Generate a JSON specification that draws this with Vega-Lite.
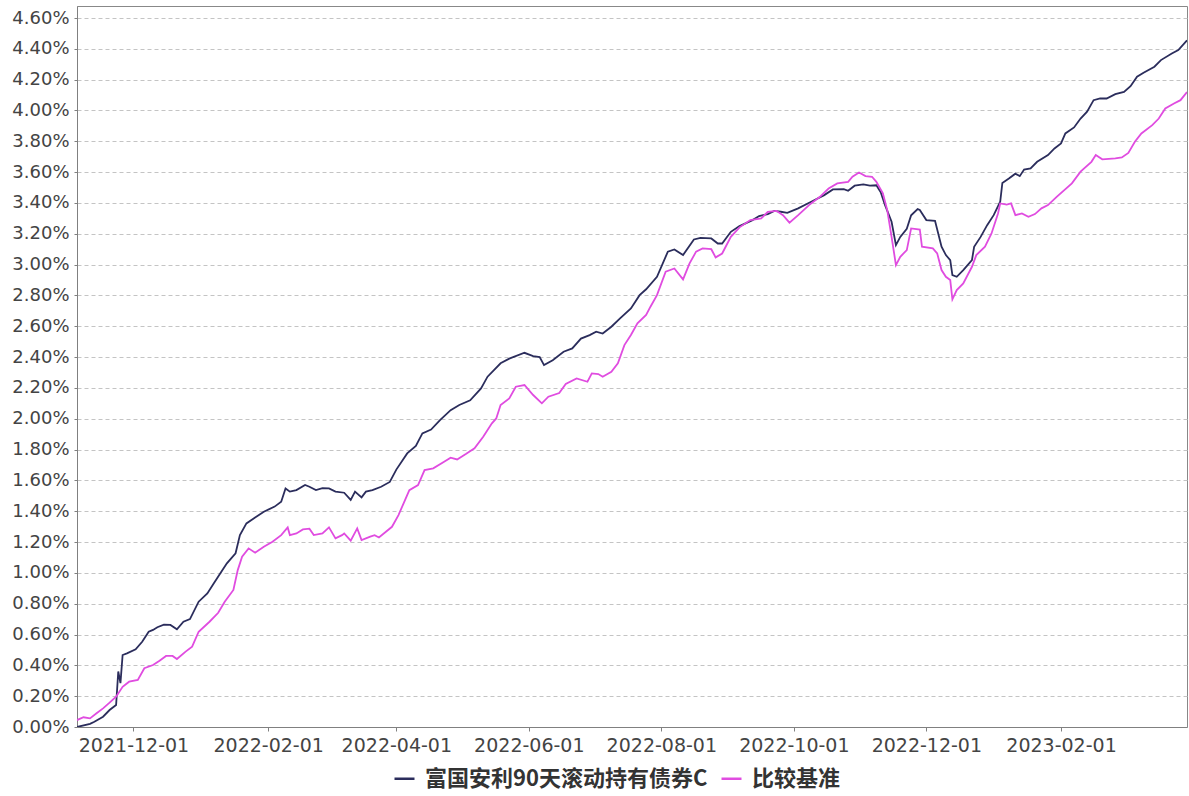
{
  "$schema": "https://vega.github.io/schema/vega-lite/v6.json",
  "width": 1110,
  "height": 721,
  "autosize": "none",
  "padding": {"left": 77, "top": 6, "right": 2, "bottom": 69},
  "background": "white",
  "config": {
    "view": {"stroke": "#888888", "strokeWidth": 1},
    "axis": {"labelFont": "DejaVu Sans", "labelFontSize": 18, "labelColor": "#444444", "domainColor": "#808080", "tickColor": "#808080", "tickSize": 4, "title": null}
  },
  "datasets": {
    "rows": [
      {"date": "2021-11-05", "series": "富国安利90天滚动持有债券C", "value": 0.0},
      {"date": "2021-11-11", "series": "富国安利90天滚动持有债券C", "value": 0.02},
      {"date": "2021-11-13", "series": "富国安利90天滚动持有债券C", "value": 0.034},
      {"date": "2021-11-17", "series": "富国安利90天滚动持有债券C", "value": 0.067},
      {"date": "2021-11-20", "series": "富国安利90天滚动持有债券C", "value": 0.11},
      {"date": "2021-11-23", "series": "富国安利90天滚动持有债券C", "value": 0.143},
      {"date": "2021-11-24", "series": "富国安利90天滚动持有债券C", "value": 0.36},
      {"date": "2021-11-25", "series": "富国安利90天滚动持有债券C", "value": 0.285},
      {"date": "2021-11-26", "series": "富国安利90天滚动持有债券C", "value": 0.467},
      {"date": "2021-11-28", "series": "富国安利90天滚动持有债券C", "value": 0.478},
      {"date": "2021-12-02", "series": "富国安利90天滚动持有债券C", "value": 0.504},
      {"date": "2021-12-05", "series": "富国安利90天滚动持有债券C", "value": 0.553},
      {"date": "2021-12-08", "series": "富国安利90天滚动持有债券C", "value": 0.618},
      {"date": "2021-12-10", "series": "富国安利90天滚动持有债券C", "value": 0.63},
      {"date": "2021-12-12", "series": "富国安利90天滚动持有债券C", "value": 0.647},
      {"date": "2021-12-15", "series": "富国安利90天滚动持有债券C", "value": 0.664},
      {"date": "2021-12-18", "series": "富国安利90天滚动持有债券C", "value": 0.662},
      {"date": "2021-12-21", "series": "富国安利90天滚动持有债券C", "value": 0.634},
      {"date": "2021-12-24", "series": "富国安利90天滚动持有债券C", "value": 0.683},
      {"date": "2021-12-27", "series": "富国安利90天滚动持有债券C", "value": 0.70},
      {"date": "2021-12-31", "series": "富国安利90天滚动持有债券C", "value": 0.813},
      {"date": "2022-01-04", "series": "富国安利90天滚动持有债券C", "value": 0.867},
      {"date": "2022-01-07", "series": "富国安利90天滚动持有债券C", "value": 0.932},
      {"date": "2022-01-10", "series": "富国安利90天滚动持有债券C", "value": 0.997},
      {"date": "2022-01-13", "series": "富国安利90天滚动持有债券C", "value": 1.062},
      {"date": "2022-01-17", "series": "富国安利90天滚动持有债券C", "value": 1.127},
      {"date": "2022-01-19", "series": "富国安利90天滚动持有债券C", "value": 1.245},
      {"date": "2022-01-22", "series": "富国安利90天滚动持有债券C", "value": 1.321},
      {"date": "2022-01-26", "series": "富国安利90天滚动持有债券C", "value": 1.36},
      {"date": "2022-01-30", "series": "富国安利90天滚动持有债券C", "value": 1.397},
      {"date": "2022-02-04", "series": "富国安利90天滚动持有债券C", "value": 1.43},
      {"date": "2022-02-07", "series": "富国安利90天滚动持有债券C", "value": 1.462},
      {"date": "2022-02-09", "series": "富国安利90天滚动持有债券C", "value": 1.548},
      {"date": "2022-02-11", "series": "富国安利90天滚动持有债券C", "value": 1.527},
      {"date": "2022-02-14", "series": "富国安利90天滚动持有债券C", "value": 1.537},
      {"date": "2022-02-18", "series": "富国安利90天滚动持有债券C", "value": 1.57},
      {"date": "2022-02-20", "series": "富国安利90天滚动持有债券C", "value": 1.559},
      {"date": "2022-02-23", "series": "富国安利90天滚动持有债券C", "value": 1.537},
      {"date": "2022-02-26", "series": "富国安利90天滚动持有债券C", "value": 1.55},
      {"date": "2022-03-01", "series": "富国安利90天滚动持有债券C", "value": 1.548},
      {"date": "2022-03-04", "series": "富国安利90天滚动持有债券C", "value": 1.527},
      {"date": "2022-03-08", "series": "富国安利90天滚动持有债券C", "value": 1.52},
      {"date": "2022-03-11", "series": "富国安利90天滚动持有债券C", "value": 1.473},
      {"date": "2022-03-13", "series": "富国安利90天滚动持有债券C", "value": 1.527},
      {"date": "2022-03-16", "series": "富国安利90天滚动持有债券C", "value": 1.49},
      {"date": "2022-03-18", "series": "富国安利90天滚动持有债券C", "value": 1.527},
      {"date": "2022-03-21", "series": "富国安利90天滚动持有债券C", "value": 1.537},
      {"date": "2022-03-25", "series": "富国安利90天滚动持有债券C", "value": 1.559},
      {"date": "2022-03-29", "series": "富国安利90天滚动持有债券C", "value": 1.59},
      {"date": "2022-04-01", "series": "富国安利90天滚动持有债券C", "value": 1.67},
      {"date": "2022-04-06", "series": "富国安利90天滚动持有债券C", "value": 1.775},
      {"date": "2022-04-10", "series": "富国安利90天滚动持有债券C", "value": 1.823},
      {"date": "2022-04-13", "series": "富国安利90天滚动持有债券C", "value": 1.905},
      {"date": "2022-04-17", "series": "富国安利90天滚动持有债券C", "value": 1.93},
      {"date": "2022-04-21", "series": "富国安利90天滚动持有债券C", "value": 1.99},
      {"date": "2022-04-26", "series": "富国安利90天滚动持有债券C", "value": 2.056},
      {"date": "2022-04-30", "series": "富国安利90天滚动持有债券C", "value": 2.089},
      {"date": "2022-05-05", "series": "富国安利90天滚动持有债券C", "value": 2.12},
      {"date": "2022-05-10", "series": "富国安利90天滚动持有债券C", "value": 2.197},
      {"date": "2022-05-13", "series": "富国安利90天滚动持有债券C", "value": 2.273},
      {"date": "2022-05-19", "series": "富国安利90天滚动持有债券C", "value": 2.36},
      {"date": "2022-05-23", "series": "富国安利90天滚动持有债券C", "value": 2.39},
      {"date": "2022-05-30", "series": "富国安利90天滚动持有债券C", "value": 2.428},
      {"date": "2022-06-03", "series": "富国安利90天滚动持有债券C", "value": 2.407},
      {"date": "2022-06-06", "series": "富国安利90天滚动持有债券C", "value": 2.40},
      {"date": "2022-06-08", "series": "富国安利90天滚动持有债券C", "value": 2.348},
      {"date": "2022-06-12", "series": "富国安利90天滚动持有债券C", "value": 2.38},
      {"date": "2022-06-17", "series": "富国安利90天滚动持有债券C", "value": 2.435},
      {"date": "2022-06-21", "series": "富国安利90天滚动持有债券C", "value": 2.456},
      {"date": "2022-06-25", "series": "富国安利90天滚动持有债券C", "value": 2.52},
      {"date": "2022-06-29", "series": "富国安利90天滚动持有债券C", "value": 2.543},
      {"date": "2022-07-02", "series": "富国安利90天滚动持有债券C", "value": 2.565},
      {"date": "2022-07-05", "series": "富国安利90天滚动持有债券C", "value": 2.553},
      {"date": "2022-07-09", "series": "富国安利90天滚动持有债券C", "value": 2.597},
      {"date": "2022-07-13", "series": "富国安利90天滚动持有债券C", "value": 2.651},
      {"date": "2022-07-18", "series": "富国安利90天滚动持有债券C", "value": 2.716},
      {"date": "2022-07-22", "series": "富国安利90天滚动持有债券C", "value": 2.802},
      {"date": "2022-07-25", "series": "富国安利90天滚动持有债券C", "value": 2.84},
      {"date": "2022-07-30", "series": "富国安利90天滚动持有债券C", "value": 2.921},
      {"date": "2022-08-04", "series": "富国安利90天滚动持有债券C", "value": 3.084},
      {"date": "2022-08-07", "series": "富国安利90天滚动持有债券C", "value": 3.098},
      {"date": "2022-08-11", "series": "富国安利90天滚动持有债券C", "value": 3.062},
      {"date": "2022-08-16", "series": "富国安利90天滚动持有债券C", "value": 3.163},
      {"date": "2022-08-19", "series": "富国安利90天滚动持有债券C", "value": 3.174},
      {"date": "2022-08-24", "series": "富国安利90天滚动持有债券C", "value": 3.17},
      {"date": "2022-08-27", "series": "富国安利90天滚动持有债券C", "value": 3.137},
      {"date": "2022-08-29", "series": "富国安利90天滚动持有债券C", "value": 3.137},
      {"date": "2022-09-02", "series": "富国安利90天滚动持有债券C", "value": 3.213},
      {"date": "2022-09-06", "series": "富国安利90天滚动持有债券C", "value": 3.25},
      {"date": "2022-09-12", "series": "富国安利90天滚动持有债券C", "value": 3.289},
      {"date": "2022-09-15", "series": "富国安利90天滚动持有债券C", "value": 3.315},
      {"date": "2022-09-19", "series": "富国安利90天滚动持有债券C", "value": 3.328},
      {"date": "2022-09-22", "series": "富国安利90天滚动持有债券C", "value": 3.349},
      {"date": "2022-09-25", "series": "富国安利90天滚动持有债券C", "value": 3.343},
      {"date": "2022-09-28", "series": "富国安利90天滚动持有债券C", "value": 3.336},
      {"date": "2022-10-03", "series": "富国安利90天滚动持有债券C", "value": 3.365},
      {"date": "2022-10-09", "series": "富国安利90天滚动持有债券C", "value": 3.408},
      {"date": "2022-10-15", "series": "富国安利90天滚动持有债券C", "value": 3.451},
      {"date": "2022-10-19", "series": "富国安利90天滚动持有债券C", "value": 3.488},
      {"date": "2022-10-24", "series": "富国安利90天滚动持有债券C", "value": 3.49},
      {"date": "2022-10-26", "series": "富国安利90天滚动持有债券C", "value": 3.479},
      {"date": "2022-10-29", "series": "富国安利90天滚动持有债券C", "value": 3.512},
      {"date": "2022-11-02", "series": "富国安利90天滚动持有债券C", "value": 3.52},
      {"date": "2022-11-05", "series": "富国安利90天滚动持有债券C", "value": 3.512},
      {"date": "2022-11-08", "series": "富国安利90天滚动持有债券C", "value": 3.515},
      {"date": "2022-11-10", "series": "富国安利90天滚动持有债券C", "value": 3.47},
      {"date": "2022-11-12", "series": "富国安利90天滚动持有债券C", "value": 3.386},
      {"date": "2022-11-15", "series": "富国安利90天滚动持有债券C", "value": 3.278},
      {"date": "2022-11-17", "series": "富国安利90天滚动持有债券C", "value": 3.127},
      {"date": "2022-11-19", "series": "富国安利90天滚动持有债券C", "value": 3.18},
      {"date": "2022-11-22", "series": "富国安利90天滚动持有债券C", "value": 3.232},
      {"date": "2022-11-24", "series": "富国安利90天滚动持有债券C", "value": 3.32},
      {"date": "2022-11-27", "series": "富国安利90天滚动持有债券C", "value": 3.36},
      {"date": "2022-11-28", "series": "富国安利90天滚动持有债券C", "value": 3.355},
      {"date": "2022-12-01", "series": "富国安利90天滚动持有债券C", "value": 3.289},
      {"date": "2022-12-05", "series": "富国安利90天滚动持有债券C", "value": 3.284},
      {"date": "2022-12-08", "series": "富国安利90天滚动持有债券C", "value": 3.116},
      {"date": "2022-12-10", "series": "富国安利90天滚动持有债券C", "value": 3.062},
      {"date": "2022-12-12", "series": "富国安利90天滚动持有债券C", "value": 3.029},
      {"date": "2022-12-13", "series": "富国安利90天滚动持有债券C", "value": 2.932},
      {"date": "2022-12-15", "series": "富国安利90天滚动持有债券C", "value": 2.921},
      {"date": "2022-12-18", "series": "富国安利90天滚动持有债券C", "value": 2.965},
      {"date": "2022-12-22", "series": "富国安利90天滚动持有债券C", "value": 3.029},
      {"date": "2022-12-23", "series": "富国安利90天滚动持有债券C", "value": 3.116},
      {"date": "2022-12-26", "series": "富国安利90天滚动持有债券C", "value": 3.18},
      {"date": "2022-12-29", "series": "富国安利90天滚动持有债券C", "value": 3.256},
      {"date": "2023-01-01", "series": "富国安利90天滚动持有债券C", "value": 3.321},
      {"date": "2023-01-04", "series": "富国安利90天滚动持有债券C", "value": 3.408},
      {"date": "2023-01-05", "series": "富国安利90天滚动持有债券C", "value": 3.53},
      {"date": "2023-01-08", "series": "富国安利90天滚动持有债券C", "value": 3.559},
      {"date": "2023-01-11", "series": "富国安利90天滚动持有债券C", "value": 3.59},
      {"date": "2023-01-13", "series": "富国安利90天滚动持有债券C", "value": 3.574},
      {"date": "2023-01-15", "series": "富国安利90天滚动持有债券C", "value": 3.617},
      {"date": "2023-01-18", "series": "富国安利90天滚动持有债券C", "value": 3.624},
      {"date": "2023-01-21", "series": "富国安利90天滚动持有债券C", "value": 3.667},
      {"date": "2023-01-26", "series": "富国安利90天滚动持有债券C", "value": 3.711},
      {"date": "2023-01-29", "series": "富国安利90天滚动持有债券C", "value": 3.754},
      {"date": "2023-02-01", "series": "富国安利90天滚动持有债券C", "value": 3.786},
      {"date": "2023-02-03", "series": "富国安利90天滚动持有债券C", "value": 3.851},
      {"date": "2023-02-07", "series": "富国安利90天滚动持有债券C", "value": 3.89},
      {"date": "2023-02-10", "series": "富国安利90天滚动持有债券C", "value": 3.948},
      {"date": "2023-02-13", "series": "富国安利90天滚动持有债券C", "value": 3.992},
      {"date": "2023-02-16", "series": "富国安利90天滚动持有债券C", "value": 4.067},
      {"date": "2023-02-19", "series": "富国安利90天滚动持有债券C", "value": 4.078},
      {"date": "2023-02-22", "series": "富国安利90天滚动持有债券C", "value": 4.078},
      {"date": "2023-02-26", "series": "富国安利90天滚动持有债券C", "value": 4.106},
      {"date": "2023-03-02", "series": "富国安利90天滚动持有债券C", "value": 4.121},
      {"date": "2023-03-05", "series": "富国安利90天滚动持有债券C", "value": 4.158},
      {"date": "2023-03-08", "series": "富国安利90天滚动持有债券C", "value": 4.219},
      {"date": "2023-03-11", "series": "富国安利90天滚动持有债券C", "value": 4.245},
      {"date": "2023-03-16", "series": "富国安利90天滚动持有债券C", "value": 4.284},
      {"date": "2023-03-19", "series": "富国安利90天滚动持有债券C", "value": 4.327},
      {"date": "2023-03-24", "series": "富国安利90天滚动持有债券C", "value": 4.37},
      {"date": "2023-03-27", "series": "富国安利90天滚动持有债券C", "value": 4.392},
      {"date": "2023-03-31", "series": "富国安利90天滚动持有债券C", "value": 4.455},
      {"date": "2021-11-05", "series": "比较基准", "value": 0.045},
      {"date": "2021-11-08", "series": "比较基准", "value": 0.063},
      {"date": "2021-11-11", "series": "比较基准", "value": 0.056},
      {"date": "2021-11-14", "series": "比较基准", "value": 0.089},
      {"date": "2021-11-17", "series": "比较基准", "value": 0.121},
      {"date": "2021-11-20", "series": "比较基准", "value": 0.158},
      {"date": "2021-11-23", "series": "比较基准", "value": 0.197},
      {"date": "2021-11-26", "series": "比较基准", "value": 0.261},
      {"date": "2021-11-29", "series": "比较基准", "value": 0.294},
      {"date": "2021-12-03", "series": "比较基准", "value": 0.305},
      {"date": "2021-12-06", "series": "比较基准", "value": 0.381},
      {"date": "2021-12-10", "series": "比较基准", "value": 0.402},
      {"date": "2021-12-13", "series": "比较基准", "value": 0.43},
      {"date": "2021-12-16", "series": "比较基准", "value": 0.461},
      {"date": "2021-12-19", "series": "比较基准", "value": 0.461},
      {"date": "2021-12-21", "series": "比较基准", "value": 0.441},
      {"date": "2021-12-25", "series": "比较基准", "value": 0.489},
      {"date": "2021-12-28", "series": "比较基准", "value": 0.521},
      {"date": "2021-12-31", "series": "比较基准", "value": 0.618},
      {"date": "2022-01-05", "series": "比较基准", "value": 0.683},
      {"date": "2022-01-09", "series": "比较基准", "value": 0.741},
      {"date": "2022-01-12", "series": "比较基准", "value": 0.813},
      {"date": "2022-01-16", "series": "比较基准", "value": 0.889},
      {"date": "2022-01-18", "series": "比较基准", "value": 1.018},
      {"date": "2022-01-20", "series": "比较基准", "value": 1.105},
      {"date": "2022-01-23", "series": "比较基准", "value": 1.159},
      {"date": "2022-01-26", "series": "比较基准", "value": 1.131},
      {"date": "2022-01-30", "series": "比较基准", "value": 1.17},
      {"date": "2022-02-03", "series": "比较基准", "value": 1.202},
      {"date": "2022-02-07", "series": "比较基准", "value": 1.245},
      {"date": "2022-02-10", "series": "比较基准", "value": 1.295},
      {"date": "2022-02-11", "series": "比较基准", "value": 1.245},
      {"date": "2022-02-14", "series": "比较基准", "value": 1.256},
      {"date": "2022-02-17", "series": "比较基准", "value": 1.282},
      {"date": "2022-02-20", "series": "比较基准", "value": 1.287},
      {"date": "2022-02-22", "series": "比较基准", "value": 1.245},
      {"date": "2022-02-26", "series": "比较基准", "value": 1.256},
      {"date": "2022-03-01", "series": "比较基准", "value": 1.295},
      {"date": "2022-03-04", "series": "比较基准", "value": 1.224},
      {"date": "2022-03-07", "series": "比较基准", "value": 1.245},
      {"date": "2022-03-08", "series": "比较基准", "value": 1.256},
      {"date": "2022-03-11", "series": "比较基准", "value": 1.209},
      {"date": "2022-03-14", "series": "比较基准", "value": 1.289},
      {"date": "2022-03-16", "series": "比较基准", "value": 1.213},
      {"date": "2022-03-20", "series": "比较基准", "value": 1.235},
      {"date": "2022-03-22", "series": "比较基准", "value": 1.245},
      {"date": "2022-03-24", "series": "比较基准", "value": 1.23},
      {"date": "2022-03-30", "series": "比较基准", "value": 1.299},
      {"date": "2022-04-02", "series": "比较基准", "value": 1.375},
      {"date": "2022-04-04", "series": "比较基准", "value": 1.44},
      {"date": "2022-04-07", "series": "比较基准", "value": 1.537},
      {"date": "2022-04-11", "series": "比较基准", "value": 1.57},
      {"date": "2022-04-14", "series": "比较基准", "value": 1.667},
      {"date": "2022-04-18", "series": "比较基准", "value": 1.678},
      {"date": "2022-04-23", "series": "比较基准", "value": 1.721},
      {"date": "2022-04-26", "series": "比较基准", "value": 1.747},
      {"date": "2022-04-29", "series": "比较基准", "value": 1.736},
      {"date": "2022-05-03", "series": "比较基准", "value": 1.771},
      {"date": "2022-05-07", "series": "比较基准", "value": 1.808},
      {"date": "2022-05-11", "series": "比较基准", "value": 1.883},
      {"date": "2022-05-15", "series": "比较基准", "value": 1.97},
      {"date": "2022-05-17", "series": "比较基准", "value": 2.002},
      {"date": "2022-05-19", "series": "比较基准", "value": 2.089},
      {"date": "2022-05-23", "series": "比较基准", "value": 2.132},
      {"date": "2022-05-26", "series": "比较基准", "value": 2.208},
      {"date": "2022-05-30", "series": "比较基准", "value": 2.219},
      {"date": "2022-06-03", "series": "比较基准", "value": 2.154},
      {"date": "2022-06-07", "series": "比较基准", "value": 2.10},
      {"date": "2022-06-10", "series": "比较基准", "value": 2.143},
      {"date": "2022-06-15", "series": "比较基准", "value": 2.167},
      {"date": "2022-06-18", "series": "比较基准", "value": 2.225},
      {"date": "2022-06-23", "series": "比较基准", "value": 2.262},
      {"date": "2022-06-28", "series": "比较基准", "value": 2.24},
      {"date": "2022-06-30", "series": "比较基准", "value": 2.294},
      {"date": "2022-07-03", "series": "比较基准", "value": 2.29},
      {"date": "2022-07-05", "series": "比较基准", "value": 2.273},
      {"date": "2022-07-09", "series": "比较基准", "value": 2.305},
      {"date": "2022-07-12", "series": "比较基准", "value": 2.36},
      {"date": "2022-07-15", "series": "比较基准", "value": 2.478},
      {"date": "2022-07-18", "series": "比较基准", "value": 2.543},
      {"date": "2022-07-21", "series": "比较基准", "value": 2.619},
      {"date": "2022-07-25", "series": "比较基准", "value": 2.673},
      {"date": "2022-07-27", "series": "比较基准", "value": 2.727},
      {"date": "2022-07-30", "series": "比较基准", "value": 2.802},
      {"date": "2022-08-03", "series": "比较基准", "value": 2.954},
      {"date": "2022-08-07", "series": "比较基准", "value": 2.975},
      {"date": "2022-08-11", "series": "比较基准", "value": 2.904},
      {"date": "2022-08-14", "series": "比较基准", "value": 3.008},
      {"date": "2022-08-17", "series": "比较基准", "value": 3.084},
      {"date": "2022-08-20", "series": "比较基准", "value": 3.105},
      {"date": "2022-08-24", "series": "比较基准", "value": 3.10},
      {"date": "2022-08-26", "series": "比较基准", "value": 3.047},
      {"date": "2022-08-29", "series": "比较基准", "value": 3.072},
      {"date": "2022-09-02", "series": "比较基准", "value": 3.18},
      {"date": "2022-09-06", "series": "比较基准", "value": 3.242},
      {"date": "2022-09-11", "series": "比较基准", "value": 3.289},
      {"date": "2022-09-16", "series": "比较基准", "value": 3.30},
      {"date": "2022-09-19", "series": "比较基准", "value": 3.343},
      {"date": "2022-09-23", "series": "比较基准", "value": 3.349},
      {"date": "2022-09-26", "series": "比较基准", "value": 3.321},
      {"date": "2022-09-29", "series": "比较基准", "value": 3.272},
      {"date": "2022-10-03", "series": "比较基准", "value": 3.321},
      {"date": "2022-10-08", "series": "比较基准", "value": 3.386},
      {"date": "2022-10-13", "series": "比较基准", "value": 3.44},
      {"date": "2022-10-17", "series": "比较基准", "value": 3.494},
      {"date": "2022-10-21", "series": "比较基准", "value": 3.527},
      {"date": "2022-10-26", "series": "比较基准", "value": 3.537},
      {"date": "2022-10-28", "series": "比较基准", "value": 3.57},
      {"date": "2022-10-31", "series": "比较基准", "value": 3.598},
      {"date": "2022-11-03", "series": "比较基准", "value": 3.574},
      {"date": "2022-11-06", "series": "比较基准", "value": 3.57},
      {"date": "2022-11-08", "series": "比较基准", "value": 3.537},
      {"date": "2022-11-11", "series": "比较基准", "value": 3.462},
      {"date": "2022-11-13", "series": "比较基准", "value": 3.354},
      {"date": "2022-11-15", "series": "比较基准", "value": 3.18},
      {"date": "2022-11-17", "series": "比较基准", "value": 2.997},
      {"date": "2022-11-19", "series": "比较基准", "value": 3.051},
      {"date": "2022-11-22", "series": "比较基准", "value": 3.094},
      {"date": "2022-11-24", "series": "比较基准", "value": 3.235},
      {"date": "2022-11-28", "series": "比较基准", "value": 3.228},
      {"date": "2022-11-29", "series": "比较基准", "value": 3.116},
      {"date": "2022-12-04", "series": "比较基准", "value": 3.105},
      {"date": "2022-12-06", "series": "比较基准", "value": 3.073},
      {"date": "2022-12-08", "series": "比较基准", "value": 2.965},
      {"date": "2022-12-10", "series": "比较基准", "value": 2.921},
      {"date": "2022-12-12", "series": "比较基准", "value": 2.9},
      {"date": "2022-12-13", "series": "比较基准", "value": 2.775},
      {"date": "2022-12-15", "series": "比较基准", "value": 2.835},
      {"date": "2022-12-18", "series": "比较基准", "value": 2.878},
      {"date": "2022-12-22", "series": "比较基准", "value": 2.986},
      {"date": "2022-12-24", "series": "比较基准", "value": 3.062},
      {"date": "2022-12-28", "series": "比较基准", "value": 3.116},
      {"date": "2022-12-31", "series": "比较基准", "value": 3.202},
      {"date": "2023-01-03", "series": "比较基准", "value": 3.332},
      {"date": "2023-01-04", "series": "比较基准", "value": 3.397},
      {"date": "2023-01-07", "series": "比较基准", "value": 3.39},
      {"date": "2023-01-09", "series": "比较基准", "value": 3.397},
      {"date": "2023-01-11", "series": "比较基准", "value": 3.321},
      {"date": "2023-01-14", "series": "比较基准", "value": 3.332},
      {"date": "2023-01-17", "series": "比较基准", "value": 3.31},
      {"date": "2023-01-20", "series": "比较基准", "value": 3.328},
      {"date": "2023-01-23", "series": "比较基准", "value": 3.365},
      {"date": "2023-01-26", "series": "比较基准", "value": 3.386},
      {"date": "2023-01-30", "series": "比较基准", "value": 3.44},
      {"date": "2023-02-06", "series": "比较基准", "value": 3.527},
      {"date": "2023-02-10", "series": "比较基准", "value": 3.603},
      {"date": "2023-02-15", "series": "比较基准", "value": 3.667},
      {"date": "2023-02-17", "series": "比较基准", "value": 3.711},
      {"date": "2023-02-20", "series": "比较基准", "value": 3.683},
      {"date": "2023-02-26", "series": "比较基准", "value": 3.689},
      {"date": "2023-03-01", "series": "比较基准", "value": 3.695},
      {"date": "2023-03-04", "series": "比较基准", "value": 3.725},
      {"date": "2023-03-07", "series": "比较基准", "value": 3.797},
      {"date": "2023-03-10", "series": "比较基准", "value": 3.851},
      {"date": "2023-03-15", "series": "比较基准", "value": 3.905},
      {"date": "2023-03-18", "series": "比较基准", "value": 3.948},
      {"date": "2023-03-21", "series": "比较基准", "value": 4.013},
      {"date": "2023-03-25", "series": "比较基准", "value": 4.045},
      {"date": "2023-03-28", "series": "比较基准", "value": 4.067},
      {"date": "2023-03-31", "series": "比较基准", "value": 4.12}
    ]
  },
  "data": {"name": "rows"},
  "mark": {"type": "line", "strokeWidth": 1.8, "clip": true},
  "encoding": {
    "x": {
      "field": "date",
      "type": "temporal",
      "scale": {"type": "utc", "domain": [{"year": 2021, "month": 11, "date": 5, "utc": true}, {"year": 2023, "month": 3, "date": 31, "utc": true}], "nice": false},
      "axis": {
        "labelExpr": "utcFormat(datum.value, '%Y-%m-%d')",
        "values": [
          {"year": 2021, "month": 12, "date": 1, "utc": true},
          {"year": 2022, "month": 2, "date": 1, "utc": true},
          {"year": 2022, "month": 4, "date": 1, "utc": true},
          {"year": 2022, "month": 6, "date": 1, "utc": true},
          {"year": 2022, "month": 8, "date": 1, "utc": true},
          {"year": 2022, "month": 10, "date": 1, "utc": true},
          {"year": 2022, "month": 12, "date": 1, "utc": true},
          {"year": 2023, "month": 2, "date": 1, "utc": true}
        ],
        "grid": false,
        "labelFontSize": 19,
        "labelPadding": 5,
        "labelFlush": false,
        "labelOverlap": false
      }
    },
    "y": {
      "field": "value",
      "type": "quantitative",
      "scale": {"domain": [0, 4.678], "nice": false, "zero": true},
      "axis": {
        "values": [0, 0.2, 0.4, 0.6, 0.8, 1.0, 1.2, 1.4, 1.6, 1.8, 2.0, 2.2, 2.4, 2.6, 2.8, 3.0, 3.2, 3.4, 3.6, 3.8, 4.0, 4.2, 4.4, 4.6],
        "labelExpr": "format(datum.value, '.2f') + '%'",
        "grid": true,
        "gridColor": "#c4c4c4",
        "gridDash": [4, 3],
        "gridWidth": 1,
        "tickSize": 3,
        "labelPadding": 5,
        "labelOverlap": false
      }
    },
    "color": {
      "field": "series",
      "type": "nominal",
      "scale": {"domain": ["富国安利90天滚动持有债券C", "比较基准"], "range": ["#2b2d5c", "#e04ce0"]},
      "legend": {
        "title": null,
        "orient": "none",
        "direction": "horizontal",
        "legendX": 316,
        "legendY": 761,
        "symbolType": "stroke",
        "symbolSize": 400,
        "symbolStrokeWidth": 2.5,
        "labelFont": "Noto Sans CJK SC",
        "labelFontSize": 22,
        "labelFontWeight": "bold",
        "labelColor": "#333333",
        "labelOffset": 9,
        "columnPadding": 8,
        "padding": 0,
        "labelLimit": 500
      }
    }
  }
}
